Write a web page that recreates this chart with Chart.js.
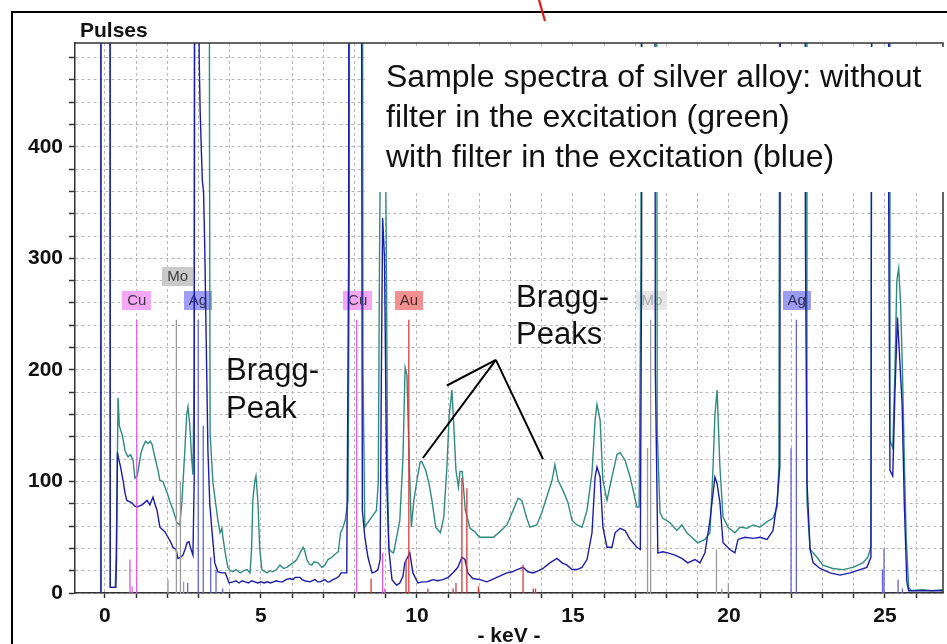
<!DOCTYPE html>
<html><head><meta charset="utf-8">
<script src="https://cdn.jsdelivr.net/npm/chart.js@4.4.0/dist/chart.umd.min.js"></script>
<style>html,body{margin:0;padding:0;background:#fff;}canvas{display:block;}</style>
</head><body>
<canvas id="c" width="947" height="644"></canvas>
<script>
// ---------- data ----------
const xTickValues = [0,1,2,3,4,5,6,7,8,9,10,11,12,13,14,15,16,17,18,19,20,21,22,23,24,25,26];
const xLabelValues = [0,5,10,15,20,25];
const yTickValues = [0,20,40,60,80,100,120,140,160,180,200,220,240,260,280,300,320,340,360,380,400,420,440,460,480];
const yLabelValues = [0,100,200,300,400];

// without filter (green)
const greenKeV = [-0.14,-0.13,0.15,0.17,0.33,0.36,0.39,0.42,0.46,0.50,0.54,0.60,0.64,0.70,0.74,0.82,0.90,0.96,1.03,1.06,1.15,1.22,1.30,1.38,1.45,1.51,1.60,1.70,1.76,1.86,1.92,1.99,2.07,2.15,2.23,2.31,2.40,2.47,2.56,2.62,2.66,2.72,2.78,2.82,2.86,2.90,3.33,3.35,3.37,3.46,3.55,3.62,3.69,3.75,3.78,3.86,3.94,4.02,4.10,4.20,4.33,4.45,4.55,4.65,4.70,4.74,4.80,4.84,4.90,4.96,5.03,5.19,5.30,5.38,5.50,5.61,5.72,5.83,5.92,6.03,6.15,6.25,6.35,6.40,6.47,6.55,6.63,6.70,6.83,6.95,7.05,7.15,7.27,7.38,7.48,7.55,7.62,7.70,7.79,7.83,7.86,8.22,8.27,8.33,8.42,8.55,8.70,8.76,8.80,8.84,8.98,9.02,9.06,9.10,9.18,9.25,9.35,9.45,9.55,9.62,9.68,9.75,9.82,9.90,10.00,10.10,10.15,10.28,10.38,10.48,10.60,10.75,10.86,10.96,11.03,11.12,11.18,11.25,11.33,11.38,11.45,11.55,11.70,11.85,12.00,12.25,12.45,12.66,12.88,13.08,13.24,13.36,13.52,13.62,13.84,14.00,14.16,14.33,14.42,14.52,14.68,14.84,14.97,15.13,15.29,15.45,15.61,15.71,15.77,15.87,15.96,16.09,16.25,16.41,16.51,16.67,16.83,16.93,17.05,17.12,17.18,17.22,17.65,17.70,17.79,17.88,18.11,18.33,18.49,18.65,18.81,19.00,19.23,19.39,19.49,19.55,19.62,19.71,19.81,19.97,20.19,20.35,20.58,20.77,20.99,21.22,21.41,21.54,21.60,21.68,22.47,22.50,22.60,22.82,23.01,23.33,23.65,23.97,24.29,24.45,24.55,24.62,25.13,25.16,25.25,25.32,25.38,25.44,25.50,25.56,25.62,25.68,25.76,25.85,26.20,26.50,26.86];
const greenCounts = [0,1500,1500,5,5,34,100,175,150,146,143,135,128,124,122,124,119,103,105,109,125,131,136,134,136,133,122,110,101,100,95,90,83,77,70,63,61,83,128,160,167,150,120,106,200,1500,1500,424,143,99,80,65,54,58,50,35,23,20,19,21,18,20,21,18,40,83,100,105,83,40,21,18,20,19,21,25,22,23,25,27,30,36,41,38,30,26,25,28,27,23,25,30,32,35,37,54,58,65,83,300,1500,1500,200,59,63,68,74,99,300,440,440,300,100,40,37,36,50,65,120,202,195,120,59,83,101,117,118,110,99,83,59,54,68,113,158,182,150,110,95,109,109,74,58,55,50,50,50,55,61,74,85,83,67,59,61,72,86,101,115,101,92,81,65,61,59,74,108,155,169,155,101,83,104,124,126,119,104,92,77,77,300,1500,1500,146,72,67,63,56,61,54,50,45,48,54,113,160,182,113,68,59,54,59,58,61,59,64,67,77,113,1500,1500,83,39,32,25,22,21,23,27,32,41,1500,1500,137,130,200,280,291,260,200,120,50,5,2,3,2,3];

// with filter (blue)
const blueKeV = [-0.14,-0.13,0.16,0.17,0.35,0.37,0.40,0.44,0.50,0.58,0.64,0.70,0.78,0.86,0.95,1.03,1.11,1.19,1.27,1.35,1.44,1.54,1.60,1.67,1.76,1.84,1.92,2.02,2.10,2.18,2.28,2.34,2.42,2.50,2.58,2.63,2.69,2.75,2.82,2.86,2.90,2.99,3.02,3.05,3.10,3.12,3.16,3.20,3.26,3.30,3.36,3.42,3.52,3.62,3.75,3.86,3.98,4.10,4.20,4.30,4.40,4.50,4.60,4.70,4.80,4.90,5.00,5.10,5.20,5.30,5.40,5.50,5.60,5.70,5.80,5.93,6.02,6.10,6.25,6.32,6.40,6.57,6.65,6.73,6.82,6.90,7.05,7.12,7.20,7.30,7.40,7.50,7.57,7.75,7.81,7.84,8.17,8.25,8.33,8.43,8.56,8.66,8.75,8.82,8.86,8.90,8.96,9.03,9.10,9.20,9.35,9.45,9.55,9.61,9.70,9.77,9.87,10.03,10.17,10.32,10.42,10.51,10.67,10.83,11.00,11.15,11.31,11.44,11.54,11.63,11.79,12.02,12.24,12.40,12.56,12.72,12.88,13.05,13.21,13.40,13.56,13.72,13.90,14.04,14.26,14.49,14.65,14.81,14.97,15.13,15.29,15.45,15.61,15.71,15.77,15.87,15.96,16.09,16.25,16.35,16.51,16.67,16.83,17.05,17.16,17.20,17.24,17.60,17.64,17.72,17.88,18.04,18.27,18.49,18.68,18.91,19.07,19.23,19.39,19.55,19.62,19.71,19.81,20.03,20.19,20.29,20.51,20.77,20.99,21.22,21.41,21.54,21.63,21.69,22.40,22.45,22.50,22.60,22.70,22.92,23.24,23.56,23.88,24.20,24.42,24.55,24.62,25.10,25.12,25.16,25.25,25.32,25.40,25.48,25.55,25.62,25.70,25.76,26.20,26.86];
const blueCounts = [0,1500,1500,5,5,30,126,120,113,101,90,83,82,81,78,77,78,79,81,83,79,86,80,74,59,57,55,50,46,41,39,31,32,34,40,45,46,40,34,100,1500,1500,480,433,388,370,360,308,200,128,80,59,27,19,18,18,9,10,11,9,11,10,9,11,10,9,10,9,10,9,10,11,10,10,12,13,12,14,14,12,11,10,11,12,10,10,12,10,10,12,13,15,18,18,300,1500,1500,74,50,32,18,19,21,30,200,336,300,100,39,12,7,9,15,27,32,36,18,9,10,10,11,12,11,12,14,18,23,32,30,18,13,12,10,12,14,16,18,19,21,23,19,18,20,22,27,31,27,25,21,21,23,30,54,104,113,104,59,41,41,54,58,56,48,41,39,300,1500,1500,200,36,37,36,34,31,27,30,27,36,65,104,98,81,45,39,36,48,50,49,50,48,56,81,113,1500,1500,317,100,39,27,22,18,16,18,21,23,32,1500,1500,343,110,105,180,247,206,169,80,10,2,2,2];

// element marker lines (keV, height in pulses)
const cuKeV = [0.80,0.87,1.02,8.07,8.90,8.97];
const cuHeight = [30,6,245,245,36,4];
const moKeV = [2.02,2.29,2.42,2.52,17.39,17.49,19.60,19.77,19.98];
const moHeight = [12,245,100,10,130,245,39,4,9];
const agKeV = [2.65,2.99,3.15,3.39,3.56,3.77,21.99,22.16,24.92,24.97,25.42,25.56];
const agHeight = [9,245,150,32,21,4,130,245,21,40,12,4];
const auKeV = [8.53,9.65,9.74,10.35,11.16,11.25,11.44,11.60,11.97,13.40,13.73,13.80];
const auHeight = [13,30,245,4,4,9,103,94,6,25,4,4];

// element tags
const tagText = ['Cu','Mo','Ag','Cu','Au','Mo','Ag'];
const tagKeV = [1.02,2.33,2.98,8.10,9.74,17.53,22.17];

// annotation: pointer lines for "Bragg-Peaks" (keV, pulses)
const pointerFrom = [12.53,209];
const pointerTo = [[10.96,186],[10.19,121],[14.04,120]];

const FONT = "'Liberation Sans', Arial, sans-serif";
const tagRow = [0,1,0,0,0,0,0];
const tagBg = ['#f6a6f6','#cacaca','#9e9ef4','#f6a6f6','#f39090','#e6e6e6','#9c9cf2'];
const tagFg = ['#3c3c3c','#3c3c3c','#30305a','#3c3c3c','#4a2a2a','#a8a8a8','#30305a'];

function bars(keV, h){
  const out = [];
  keV.forEach((k,i)=>{ out.push({x:k,y:0},{x:k,y:h[i]},{x:k,y:null}); });
  return out;
}
function pts(xs, ys){ return xs.map((x,i)=>({x:x,y:ys[i]})); }

const overlay = {
  id:'overlay',
  beforeDatasetsDraw(chart){
    const ctx = chart.ctx, xs = chart.scales.x;
    ctx.save();
    ctx.font = '15px ' + FONT;
    ctx.textAlign = 'center'; ctx.textBaseline = 'middle';
    tagText.forEach((t,i)=>{
      const cx = xs.getPixelForValue(tagKeV[i]);
      const w = Math.round(ctx.measureText(t).width) + 10;
      const top = 291 - tagRow[i]*24;
      ctx.fillStyle = tagBg[i];
      ctx.fillRect(Math.round(cx - w/2), top, w, 19);
      ctx.fillStyle = tagFg[i];
      ctx.fillText(t, cx, top + 10);
    });
    ctx.restore();
  },
  afterDatasetsDraw(chart){
    const ctx = chart.ctx, a = chart.chartArea, xs = chart.scales.x, ys = chart.scales.y;
    ctx.save();
    // plot frame top / right
    ctx.strokeStyle = '#333'; ctx.lineWidth = 1.5;
    ctx.beginPath(); ctx.moveTo(a.left, a.top); ctx.lineTo(a.right, a.top); ctx.lineTo(a.right, a.bottom); ctx.stroke();
    // white text box
    ctx.fillStyle = '#fff';
    ctx.fillRect(365, 47, 947-365, 145);
    ctx.fillStyle = '#111';
    ctx.font = '32px ' + FONT;
    ctx.textAlign = 'left'; ctx.textBaseline = 'alphabetic';
    ctx.fillText('Sample spectra of silver alloy: without', 386, 87);
    ctx.fillText('filter in the excitation (green)', 386, 127);
    ctx.fillText('with filter in the excitation (blue)', 386, 167);
    // Bragg labels
    ctx.font = '31px ' + FONT;
    ctx.fillText('Bragg-', 226, 380);
    ctx.fillText('Peak', 226, 418);
    ctx.fillText('Bragg-', 516, 307);
    ctx.fillText('Peaks', 516, 344);
    // pointer lines
    ctx.strokeStyle = '#000'; ctx.lineWidth = 2;
    const fx = xs.getPixelForValue(pointerFrom[0]), fy = ys.getPixelForValue(pointerFrom[1]);
    pointerTo.forEach(p=>{
      ctx.beginPath(); ctx.moveTo(fx, fy);
      ctx.lineTo(xs.getPixelForValue(p[0]), ys.getPixelForValue(p[1])); ctx.stroke();
    });
    // axis captions
    ctx.font = 'bold 21px ' + FONT;
    ctx.fillText('Pulses', 80, 37);
    ctx.textAlign = 'center';
    ctx.fillText('- keV -', (a.left + a.right)/2, 642);
    // outer frame
    ctx.strokeStyle = '#000'; ctx.lineWidth = 2;
    ctx.beginPath(); ctx.moveTo(12, 644); ctx.lineTo(12, 12); ctx.lineTo(947, 12); ctx.stroke();
    // red stroke at top
    ctx.strokeStyle = '#e01818'; ctx.lineWidth = 2.2;
    ctx.beginPath(); ctx.moveTo(539, 0); ctx.lineTo(545, 21); ctx.stroke();
    ctx.restore();
  }
};

const axisFont = {family: FONT, size: 21, weight: 'bold'};

new Chart(document.getElementById('c').getContext('2d'), {
  type: 'line',
  data: {
    datasets: [
      {data: bars(cuKeV, cuHeight), borderColor:'#e05ae0', borderWidth:1.3, pointRadius:0, spanGaps:false, order:0},
      {data: bars(moKeV, moHeight), borderColor:'#9a9a9a', borderWidth:1.3, pointRadius:0, spanGaps:false, order:0},
      {data: bars(agKeV, agHeight), borderColor:'#6464dc', borderWidth:1.3, pointRadius:0, spanGaps:false, order:0},
      {data: bars(auKeV, auHeight), borderColor:'#d83a3a', borderWidth:1.3, pointRadius:0, spanGaps:false, order:0},
      {data: pts(blueKeV, blueCounts), borderColor:'#1c1caa', borderWidth:1.4, pointRadius:0, tension:0, order:1},
      {data: pts(greenKeV, greenCounts), borderColor:'#2e8b7e', borderWidth:1.4, pointRadius:0, tension:0, order:2}
    ]
  },
  options: {
    responsive:false, animation:false, devicePixelRatio:1,
    layout:{padding:{left:0, right:4, top:43, bottom:0}},
    plugins:{legend:{display:false}, tooltip:{enabled:false}, title:{display:false}},
    scales:{
      x:{
        type:'linear', min:-0.96, max:26.86,
        afterBuildTicks: s => { s.ticks = xTickValues.map(v => ({value:v})); },
        afterFit: s => { s.height = 51; },
        grid:{color:'#b6b6b6', lineWidth:1, tickLength:5, tickColor:'#333', tickWidth:1.5},
        border:{display:true, color:'#333', width:1.5, dash:[3,3]},
        ticks:{autoSkip:false, maxRotation:0, padding:6, color:'#111', font:axisFont,
          callback: v => xLabelValues.includes(v) ? String(v) : ''}
      },
      y:{
        min:0, max:493,
        afterBuildTicks: s => { s.ticks = yTickValues.map(v => ({value:v})); },
        afterFit: s => { s.width = 75; },
        grid:{color:'#b6b6b6', lineWidth:1, tickLength:6, tickColor:'#333', tickWidth:1.5},
        border:{display:true, color:'#333', width:1.5, dash:[3,3]},
        ticks:{autoSkip:false, padding:6, color:'#111', font:axisFont,
          callback: v => yLabelValues.includes(v) ? String(v) : ''}
      }
    }
  },
  plugins:[overlay]
});
</script>
</body></html>
